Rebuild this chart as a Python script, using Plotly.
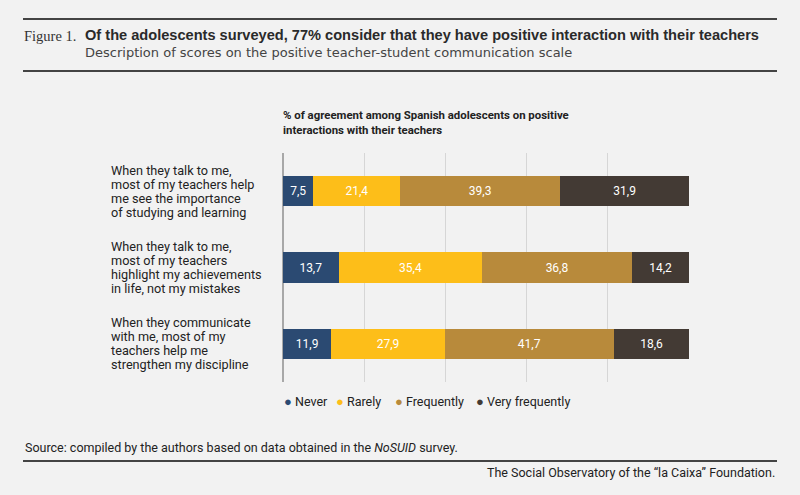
import plotly.graph_objects as go

#%% Data
statements = [
    ["When they talk to me,", "most of my teachers help", "me see the importance", "of studying and learning"],
    ["When they talk to me,", "most of my teachers", "highlight my achievements", "in life, not my mistakes"],
    ["When they communicate", "with me, most of my", "teachers help me", "strengthen my discipline"],
]
answers = ["Never", "Rarely", "Frequently", "Very frequently"]
never = [7.5, 13.7, 11.9]
rarely = [21.4, 35.4, 27.9]
frequently = [39.3, 36.8, 41.7]
very_frequently = [31.9, 14.2, 18.6]
x_ticks = [0, 20, 40, 60, 80, 100]

series = [never, rarely, frequently, very_frequently]
colors = ["#2b4a72", "#fdbe19", "#b88a3b", "#433a34"]
cats = ["s0", "s1", "s2"]

FONT = "Roboto, Liberation Sans, sans-serif"
HEAD = "DejaVu Sans, sans-serif"
BG = "#f2f2f2"
INK = "#222"

# plot area in pixels
L, R, T, B = 283, 111, 153, 113
W, H = 800, 495
pw, ph = W - L - R, H - T - B


def px(x):
    return (x - L) / pw


def py(y):
    return (H - B - y) / ph


fig = go.Figure()

for name, vals, col in zip(answers, series, colors):
    fig.add_trace(go.Bar(
        y=cats, x=vals, name=name, orientation="h",
        marker=dict(color=col, line=dict(width=0)),
        texttemplate="%{x:.1f}", textposition="inside", insidetextanchor="middle",
        textfont=dict(color="white", size=12, family=FONT),
        showlegend=False, hoverinfo="x+name",
    ))

fig.update_layout(
    width=W, height=H,
    barmode="stack", bargap=0.6,
    separators=",.",
    paper_bgcolor=BG, plot_bgcolor=BG,
    margin=dict(l=L, r=R, t=T, b=B),
    font=dict(family=FONT, color=INK, size=12),
    showlegend=False,
)

fig.update_xaxes(range=[0, 100], tickvals=x_ticks, showticklabels=False,
                 showgrid=True, gridcolor="#d6d6d6", gridwidth=1,
                 zeroline=True, zerolinecolor="#a8a8a8", zerolinewidth=2,
                 fixedrange=True)
fig.update_yaxes(categoryorder="array", categoryarray=cats, autorange="reversed",
                 showticklabels=False, showgrid=False, zeroline=False, fixedrange=True)

# left-aligned statement labels, one annotation per line for tight leading
for cat, lines in zip(cats, statements):
    n = len(lines)
    for i, line in enumerate(lines):
        fig.add_annotation(x=px(109), xref="paper", y=cat, yref="y", text=line,
                           showarrow=False, xanchor="left", yanchor="middle",
                           yshift=((n - 1) / 2 - i) * 14,
                           font=dict(size=12.7, family=FONT, color=INK))

# legend with round markers
legend_x = [282, 334, 393, 474]
for name, col, lx in zip(answers, colors, legend_x):
    fig.add_annotation(x=px(lx), y=py(401), xref="paper", yref="paper",
                       text=f"<span style='color:{col};font-size:13px'>\u25cf</span> {name}",
                       showarrow=False, xanchor="left", yanchor="middle",
                       font=dict(size=12.5, family=FONT, color=INK))

# header
fig.add_annotation(x=px(22), y=py(36), xref="paper", yref="paper", text="Figure 1.",
                   showarrow=False, xanchor="left", yanchor="middle",
                   font=dict(size=14.5, family="Liberation Serif, serif", color="#333"))
fig.add_annotation(x=px(83), y=py(35), xref="paper", yref="paper",
                   text="<b>Of the adolescents surveyed, 77% consider that they have positive interaction with their teachers</b>",
                   showarrow=False, xanchor="left", yanchor="middle",
                   font=dict(size=14.6, family="Liberation Sans, Arial, sans-serif", color="#2a2a2a"))
fig.add_annotation(x=px(83), y=py(52), xref="paper", yref="paper",
                   text="Description of scores on the positive teacher-student communication scale",
                   showarrow=False, xanchor="left", yanchor="middle",
                   font=dict(size=13, family=HEAD, color="#444"))
fig.add_annotation(x=px(281), y=py(122), xref="paper", yref="paper",
                   text="<b>% of agreement among Spanish adolescents on positive<br>interactions with their teachers</b>",
                   showarrow=False, xanchor="left", yanchor="middle", align="left",
                   font=dict(size=11.4, family=FONT, color=INK))

# footer
fig.add_annotation(x=px(23), y=py(447), xref="paper", yref="paper",
                   text="Source: compiled by the authors based on data obtained in the <i>NoSUID</i> survey.",
                   showarrow=False, xanchor="left", yanchor="middle",
                   font=dict(size=12.5, family=FONT, color=INK))
fig.add_annotation(x=px(777), y=py(472), xref="paper", yref="paper",
                   text="The Social Observatory of the \u201cla Caixa\u201d Foundation.",
                   showarrow=False, xanchor="right", yanchor="middle",
                   font=dict(size=12.5, family=FONT, color=INK))

for yline in [19, 71, 461]:
    fig.add_shape(type="line", xref="paper", yref="paper",
                  x0=px(23), x1=px(777), y0=py(yline), y1=py(yline),
                  line=dict(color="#444", width=2))

fig.write_html("out.html", config={"displayModeBar": False},
               post_script="document.body.style.margin='0';")
